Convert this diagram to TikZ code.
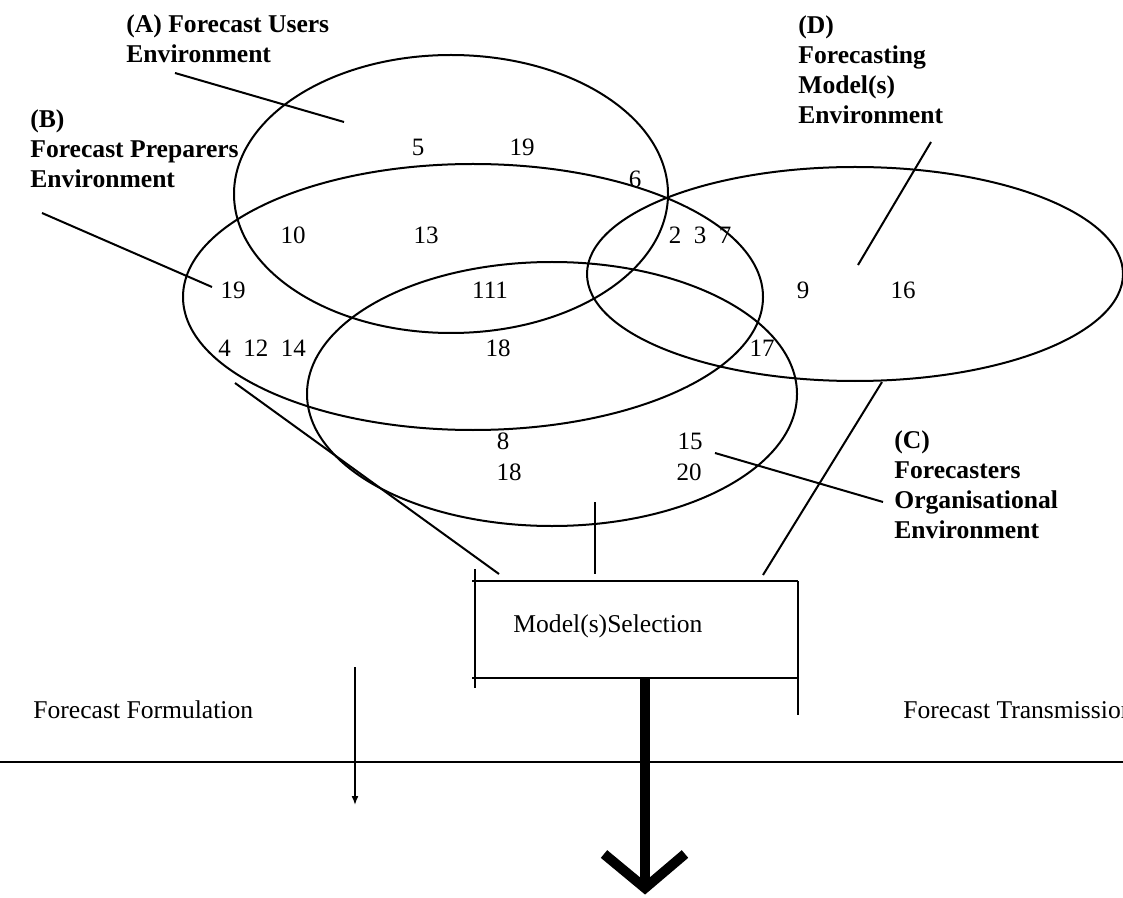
\documentclass[tikz,border=0pt]{standalone}
\usepackage{fontspec}
\setmainfont{Liberation Serif}
\usetikzlibrary{arrows.meta, calc}

\tikzset{
  ring/.style={line width=1pt},
  leader/.style={line width=1pt},
  envlabel/.style={font=\fontsize{12.8}{15}\selectfont\bfseries, align=left, anchor=north west, inner sep=0pt},
  num/.style={font=\fontsize{12.5}{15}\selectfont, inner sep=0pt},
  plaintext/.style={font=\fontsize{12.8}{15}\selectfont, inner sep=0pt, anchor=base west},
  bigarrow/.style={line width=5pt},
}

\begin{document}
\begin{tikzpicture}[x=0.5pt, y=-0.5pt]

    % --- 1. CANVAS ---
    \useasboundingbox (0,0) rectangle (1123,898);
    \clip (0,0) rectangle (1123,898);

    % --- 2. THE FOUR ENVIRONMENTS ---
    \draw[ring] (451,194) ellipse [x radius=217, y radius=139]; % (A)
    \draw[ring] (473,297) ellipse [x radius=290, y radius=133]; % (B)
    \draw[ring] (552,394) ellipse [x radius=245, y radius=132]; % (C)
    \draw[ring] (855,274) ellipse [x radius=268, y radius=107]; % (D)

    % --- 3. LABELS ---
    \node[envlabel] (labA) at (126,14)  {(A) Forecast Users\\Environment};
    \node[envlabel] (labB) at (30,109)  {(B)\\Forecast Preparers\\Environment};
    \node[envlabel] (labD) at (798,15)  {(D)\\Forecasting\\Model(s)\\Environment};
    \node[envlabel] (labC) at (894,430) {(C)\\Forecasters\\Organisational\\Environment};

    % leader lines
    \coordinate (legA1) at (175,73);  \coordinate (legA2) at (344,122);
    \coordinate (legB1) at (42,213);  \coordinate (legB2) at (212,287);
    \coordinate (legD1) at (931,142); \coordinate (legD2) at (858,265);
    \coordinate (legC1) at (883,502); \coordinate (legC2) at (715,453);
    \draw[leader] (legA1) -- (legA2);
    \draw[leader] (legB1) -- (legB2);
    \draw[leader] (legD1) -- (legD2);
    \draw[leader] (legC1) -- (legC2);

    % --- 4. ITEM NUMBERS ---
    \node[num] (n5)   at (418,147) {5};
    \node[num] (n19a) at (522,147) {19};
    \node[num] (n6)   at (635,179) {6};
    \node[num] (n10)  at (293,235) {10};
    \node[num] (n13)  at (426,235) {13};
    \node[num] (n237) at (700,235) {2~~3~~7};
    \node[num] (n19b) at (233,290) {19};
    \node[num] (n111) at (490,290) {111};
    \node[num] (n9)   at (803,290) {9};
    \node[num] (n16)  at (903,290) {16};
    \node[num] (n41214) at (262,348) {4~~12~~14};
    \node[num] (n18a) at (498,348) {18};
    \node[num] (n17)  at (762,348) {17};
    \node[num] (n8)   at (503,441) {8};
    \node[num] (n15)  at (690,441) {15};
    \node[num] (n18b) at (509,472) {18};
    \node[num] (n20)  at (689,472) {20};

    % --- 5. MODEL SELECTION BOX ---
    \node[plaintext] (sel) at (513,632) {Model(s)Selection};
    \coordinate (boxTL) at (472,581); \coordinate (boxTR) at (798,581);
    \coordinate (boxBL) at (472,678); \coordinate (boxBR) at (798,678);
    \draw[leader] (boxTL) -- (boxTR);
    \draw[leader] (boxBL) -- (boxBR);
    \draw[leader] (475,569) -- (475,688);
    \draw[leader] (boxTR) -- (798,715);

    % feeds from the environments
    \coordinate (feedB) at (235,383); \coordinate (inB) at (499,574);
    \coordinate (feedC) at (595,502); \coordinate (inC) at (595,574);
    \coordinate (feedD) at (882,382); \coordinate (inD) at (763,575);
    \draw[leader] (feedB) -- (inB);
    \draw[leader] (feedC) -- (inC);
    \draw[leader] (feedD) -- (inD);

    % --- 6. FORMULATION / TRANSMISSION ---
    \node[plaintext] (form)  at (33,718)  {Forecast Formulation};
    \node[plaintext] (trans) at (903,718) {Forecast Transmission};
    \coordinate (divL) at (0,762); \coordinate (divR) at (1123,762);
    \draw[leader] (divL) -- (divR);

    \coordinate (smallTop) at (355,667); \coordinate (smallTip) at (355,805);
    \draw[line width=0.8pt, -{Latex[length=4.5pt, width=3.5pt]}] (smallTop) -- (smallTip);

    % --- 7. OUTPUT ARROW ---
    \coordinate (outTop) at (645,678); \coordinate (outTip) at (645,888);
    \draw[bigarrow] (outTop) -- (outTip);
    \draw[bigarrow, line join=miter] ($(outTip)+(-41,-34)$) -- (outTip) -- ($(outTip)+(40,-34)$);

\end{tikzpicture}
\end{document}
